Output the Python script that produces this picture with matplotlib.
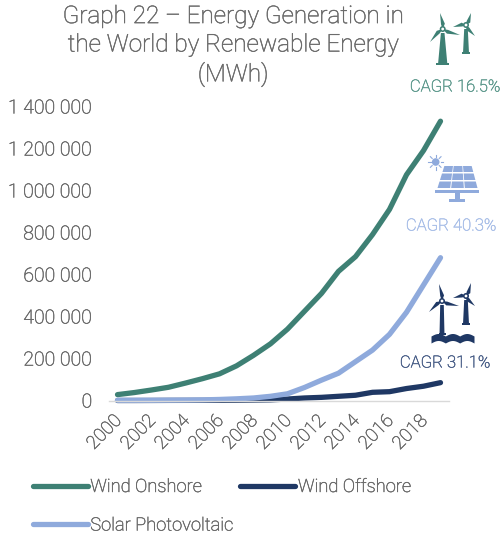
import numpy as np
import matplotlib
matplotlib.use("Agg")
import matplotlib.pyplot as plt
import matplotlib.patheffects as pe
from matplotlib.text import Text
from matplotlib.patches import Polygon, Circle, Rectangle
from matplotlib.transforms import ScaledTranslation

plt.rcParams['font.family'] = ['Roboto', 'Liberation Sans', 'DejaVu Sans']
plt.rcParams['font.weight'] = 'light'

years = list(range(2000, 2020))
onshore = [28000, 38000, 50000, 63000, 83000, 104000, 127000, 165000, 215000, 270000,
           340000, 425000, 510000, 615000, 685000, 790000, 910000, 1075000, 1190000, 1330000]
offshore = [0, 0, 200, 500, 600, 700, 900, 1200, 2000, 3000,
            7000, 12000, 15000, 20000, 25000, 39000, 42000, 57000, 68000, 85000]
solar = [1000, 1000, 1000, 1500, 2000, 3000, 5000, 8000, 12000, 20000,
         32000, 62000, 97000, 130000, 185000, 240000, 315000, 420000, 550000, 680000]
y_ticks = [0, 200000, 400000, 600000, 800000, 1000000, 1200000, 1400000]

GREEN = '#3e8074'
NAVY = '#1f3864'
BLUE = '#8faadc'
GREY = '#6a6a6a'

W, H = 504, 533
fig = plt.figure(figsize=(W / 100, H / 100), dpi=100)
ax = fig.add_axes([109 / W, 1 - 400.5 / H, 340 / W, 294 / H])

x = np.arange(len(years))
ax.plot(x, onshore, color=GREEN, lw=3.8, solid_capstyle='round', label='Wind Onshore')
ax.plot(x, offshore, color=NAVY, lw=3.8, solid_capstyle='round', label='Wind Offshore')
ax.plot(x, solar, color=BLUE, lw=3.8, solid_capstyle='round', label='Solar Photovoltaic')

ax.set_xlim(-0.5, 19.5)
ax.set_ylim(0, 1400000)
ax.set_yticks(y_ticks)
ax.set_yticklabels([f'{v:,}'.replace(',', ' ') for v in y_ticks])
ax.set_xticks(x[::2])
ax.set_xticklabels(years[::2], rotation=45, ha='right', rotation_mode='anchor')
ax.tick_params(axis='y', length=0, labelsize=14, labelcolor=GREY, pad=12)
ax.tick_params(axis='x', length=0, labelsize=13.4, labelcolor=GREY, pad=8)
shift = ScaledTranslation(-5 / 100, 0, fig.dpi_scale_trans)
for lab in ax.get_xticklabels():
    lab.set_transform(lab.get_transform() + shift)
for s in ['top', 'left', 'right']:
    ax.spines[s].set_visible(False)
ax.spines['bottom'].set_color('#d9d9d9')
ax.spines['bottom'].set_linewidth(1)
for line in ax.get_lines():
    line.set_clip_on(False)

# legend, columns fill downwards so solar sits under onshore
h, l = ax.get_legend_handles_labels()
leg = fig.legend([h[0], h[2], h[1]], [l[0], l[2], l[1]], ncol=2, frameon=False,
                 loc='upper left', bbox_to_anchor=(16 / W, 1 - 461.5 / H),
                 handlelength=3.0, handletextpad=0.15, columnspacing=0.4,
                 labelspacing=1.12, fontsize=13.2, labelcolor=GREY)

# overlay in pixel coordinates for the title, notes and icons
ov = fig.add_axes([0, 0, 1, 1])
ov.set_xlim(0, W)
ov.set_ylim(H, 0)
ov.axis('off')
ov.patch.set_alpha(0)

ov.text(233, 46, 'Graph 22 – Energy Generation in\nthe World by Renewable Energy\n(MWh)',
        ha='center', va='center', fontsize=17.5, color=GREY, linespacing=1.3)
ov.text(455, 87, 'CAGR 16.5%', ha='center', va='center', fontsize=12, color='#5f9a8e')
ov.text(451, 226, 'CAGR 40.3%', ha='center', va='center', fontsize=12, color='#a9bfe8')
ov.text(445, 363, 'CAGR 31.1%', ha='center', va='center', fontsize=12, color='#4a5f88')


def turbine(hub, tips, base_y, half_base, color):
    hx, hy = hub
    ov.add_patch(Polygon([(hx - 1.8, hy + 4), (hx + 1.8, hy + 4), (hx + half_base * 0.7, base_y - 2),
                          (hx - half_base * 0.7, base_y - 2)], color=color, lw=0))
    ov.add_patch(Rectangle((hx - half_base, base_y - 2), 2 * half_base, 2, color=color, lw=0))
    for tx, ty in tips:
        d = np.array([tx - hx, ty - hy], dtype=float)
        n = np.array([-d[1], d[0]]) / np.hypot(*d)
        mid = np.array([hx, hy]) + d * 0.3
        ov.add_patch(Polygon([(hx, hy), mid + n * 3.0, (tx, ty), mid - n * 0.9], color=color, lw=0))
    ov.add_patch(Circle(hub, 3.0, color=color, lw=0))
    ov.add_patch(Circle(hub, 1.4, color='white', lw=0))


def solar_icon():
    c = '#8faadc'
    top_l, top_r, bot_l, bot_r = 444, 472, 437, 478
    ys = [166, 172, 173.5, 180, 181.5, 188]
    for r in range(3):
        y0, y1 = ys[2 * r], ys[2 * r + 1]
        for k in range(3):
            pts = []
            for yy, a in [(y0, k / 3 + 0.012), (y0, (k + 1) / 3 - 0.012),
                          (y1, (k + 1) / 3 - 0.012), (y1, k / 3 + 0.012)]:
                t = (yy - 166) / 22
                left = top_l + (bot_l - top_l) * t
                right = top_r + (bot_r - top_r) * t
                pts.append((left + (right - left) * a, yy))
            ov.add_patch(Polygon(pts, color=c, lw=0))
    ov.add_patch(Rectangle((435, 190), 44, 3, color=c, lw=0))
    ov.add_patch(Rectangle((455, 193), 5, 6, color=c, lw=0))
    ov.add_patch(Rectangle((449, 199), 16, 3, color=c, lw=0))
    ov.add_patch(Circle((435.7, 162), 3.8, color=c, lw=0))
    for a in np.arange(0, 2 * np.pi, np.pi / 4):
        ov.plot([435.7 + 5 * np.cos(a), 435.7 + 7.5 * np.cos(a)],
                [162 + 5 * np.sin(a), 162 + 7.5 * np.sin(a)], color=c, lw=0.8)


turbine((442.7, 29), [(440, 13), (460, 35), (430, 42)], 65, 6.5, GREEN)
turbine((466, 25), [(471, 13), (453, 27), (475, 36)], 54, 4.2, GREEN)
solar_icon()
turbine((442, 301), [(439, 284), (459, 306), (429, 312)], 335, 3.5, NAVY)
turbine((466, 296), [(471, 283), (453, 298), (475, 306)], 325, 4.2, NAVY)

# waves under the offshore turbines
wx = np.linspace(431, 474, 120)
crest = np.abs(np.sin((wx - 431) / 43 * 3 * np.pi))
ov.fill_between(wx, 336 - 2.5 * crest, 343 - 2.5 * crest, color=NAVY, lw=0)

# the light weight renders too thin, thicken it a little
for t in fig.findobj(Text):
    t.set_path_effects([pe.withStroke(linewidth=0.35, foreground=t.get_color())])

fig.savefig('out.png', dpi=100)
